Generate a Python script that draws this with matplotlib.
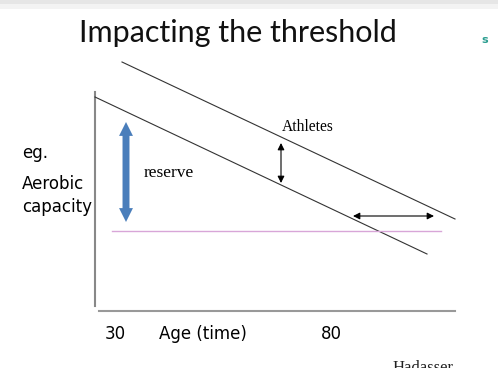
import matplotlib.pyplot as plt
from matplotlib.patches import FancyArrowPatch

# slide geometry, in pixels of the 498x368 slide (y grows downwards)
normal_x = [95, 427]
normal_y = [97, 254]
athlete_x = [122, 455]
athlete_y = [62, 219]
threshold_x = [112, 441]
threshold_y = [231, 231]
yaxis_x = [95, 95]
yaxis_y = [92, 306]
xaxis_x = [99, 455]
xaxis_y = [311, 311]

reserve_top = (126, 122)
reserve_mid = (126, 172)
reserve_bottom = (126, 222)
gap_arrow = [(281, 143), (281, 183)]
delay_arrow = [(353, 216), (434, 216)]

tick_labels = ['30', '80']
tick_pos = [115, 331]

fig = plt.figure(figsize=(4.98, 3.68), dpi=100)
ax = fig.add_axes([0, 0, 1, 1])
ax.set_xlim(0, 498)
ax.set_ylim(368, 0)
ax.axis('off')

# light grey band of the screenshot at the top
ax.axhspan(0, 4, color='#e6e6e6', lw=0)
ax.axhspan(4, 9, color='#f3f3f3', lw=0)

ax.text(238, 33, 'Impacting the threshold', fontsize=22, family='Lato',
        ha='center', va='center', color='#111111')
ax.text(485, 40, 's', fontsize=8, color='#2a9d8f', ha='center', va='center',
        fontweight='bold')

ax.plot(yaxis_x, yaxis_y, color='#888888', lw=1.5)
ax.plot(xaxis_x, xaxis_y, color='#999999', lw=1.5)
ax.plot(normal_x, normal_y, color='#333333', lw=0.8)
ax.plot(athlete_x, athlete_y, color='#333333', lw=0.8)
ax.plot(threshold_x, threshold_y, color='#d8a6d8', lw=1.0)

# thick blue double arrow, drawn as two halves from the middle
for end in (reserve_top, reserve_bottom):
    ax.add_patch(FancyArrowPatch(reserve_mid, end,
                                 arrowstyle='simple,head_length=10,head_width=10,tail_width=5',
                                 mutation_scale=1, fc='#4a7ebb', ec='none',
                                 shrinkA=0, shrinkB=0))
ax.add_patch(FancyArrowPatch(*gap_arrow, arrowstyle='<|-|>,head_length=4,head_width=2',
                             mutation_scale=1, color='black', lw=0.8, shrinkA=0, shrinkB=0))
ax.add_patch(FancyArrowPatch(*delay_arrow, arrowstyle='<|-|>,head_length=4,head_width=2',
                             mutation_scale=1, color='black', lw=0.8, shrinkA=0, shrinkB=0))

ax.text(282, 127, 'Athletes', fontsize=11.2, family='Liberation Serif', va='center')
ax.text(144, 173, 'reserve', fontsize=12.5, family='Liberation Serif', va='center')

ax.text(22, 153, 'eg.', fontsize=12, va='center')
ax.text(22, 184, 'Aerobic', fontsize=12, va='center')
ax.text(22, 207, 'capacity', fontsize=12, va='center')

for lab, p in zip(tick_labels, tick_pos):
    ax.text(p, 334, lab, fontsize=12, ha='center', va='center')
ax.text(159, 334, 'Age (time)', fontsize=12, va='center')

ax.text(393, 376, 'Hadasser', fontsize=12, family='Liberation Serif', va='bottom',
        color='#222222', clip_on=True)

fig.savefig('out.png', dpi=100)
